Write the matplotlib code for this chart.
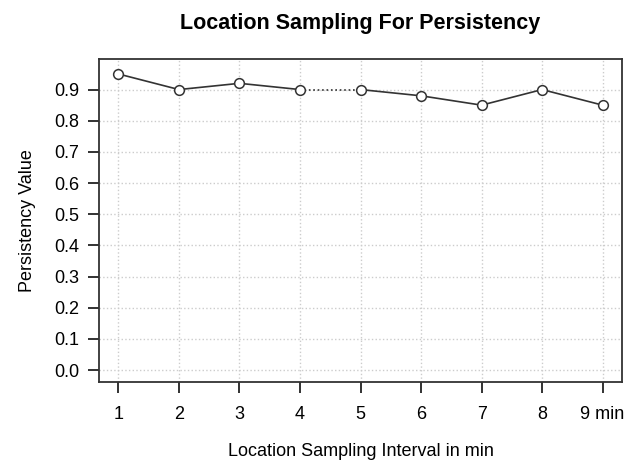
import numpy as np
import matplotlib.pyplot as plt

plt.rcParams['font.family'] = ['Liberation Sans', 'DejaVu Sans']

# data
interval = [1, 2, 3, 4, 5, 6, 7, 8, 9]
persistency = [0.95, 0.90, 0.92, 0.90, 0.90, 0.88, 0.85, 0.90, 0.85]
xlabels = ['1', '2', '3', '4', '5', '6', '7', '8', '9 min']
yticks = [0.0, 0.1, 0.2, 0.3, 0.4, 0.5, 0.6, 0.7, 0.8, 0.9]

fig = plt.figure(figsize=(6.27, 4.65), dpi=100)
ax = fig.add_axes([0.158, 0.1785, 0.834, 0.6946])

ax.grid(True, color='#cccccc', linestyle=':', linewidth=1.0)
ax.set_axisbelow(True)

# solid segments except 4 -> 5 which is dotted
for i in range(len(interval) - 1):
    ls = ':' if interval[i] == 4 else '-'
    ax.plot(interval[i:i + 2], persistency[i:i + 2], color='#333333',
            linestyle=ls, linewidth=1.2)
ax.plot(interval, persistency, linestyle='none', marker='o', markersize=7,
        markerfacecolor='white', markeredgecolor='#333333', markeredgewidth=1.1)

ax.set_xlim(0.68, 9.32)
ax.set_ylim(-0.038, 0.998)
ax.set_xticks(interval)
ax.set_xticklabels(xlabels)
ax.set_yticks(yticks)
ax.set_yticklabels(['%.1f' % v for v in yticks])
ax.tick_params(direction='out', length=8, width=1.3, labelsize=13, color='#222222')
ax.tick_params(axis='x', pad=9)
ax.tick_params(axis='y', pad=6)
for s in ax.spines.values():
    s.set_linewidth(1.3)
    s.set_color('#333333')

ax.set_xlabel('Location Sampling Interval in min', fontsize=13, labelpad=15)
ax.set_ylabel('Persistency Value', fontsize=13, labelpad=13)
fig.text(0.575, 0.95, 'Location Sampling For Persistency', fontsize=15.5,
         fontweight='bold', ha='center', va='center')

fig.savefig('out.png', dpi=100)
